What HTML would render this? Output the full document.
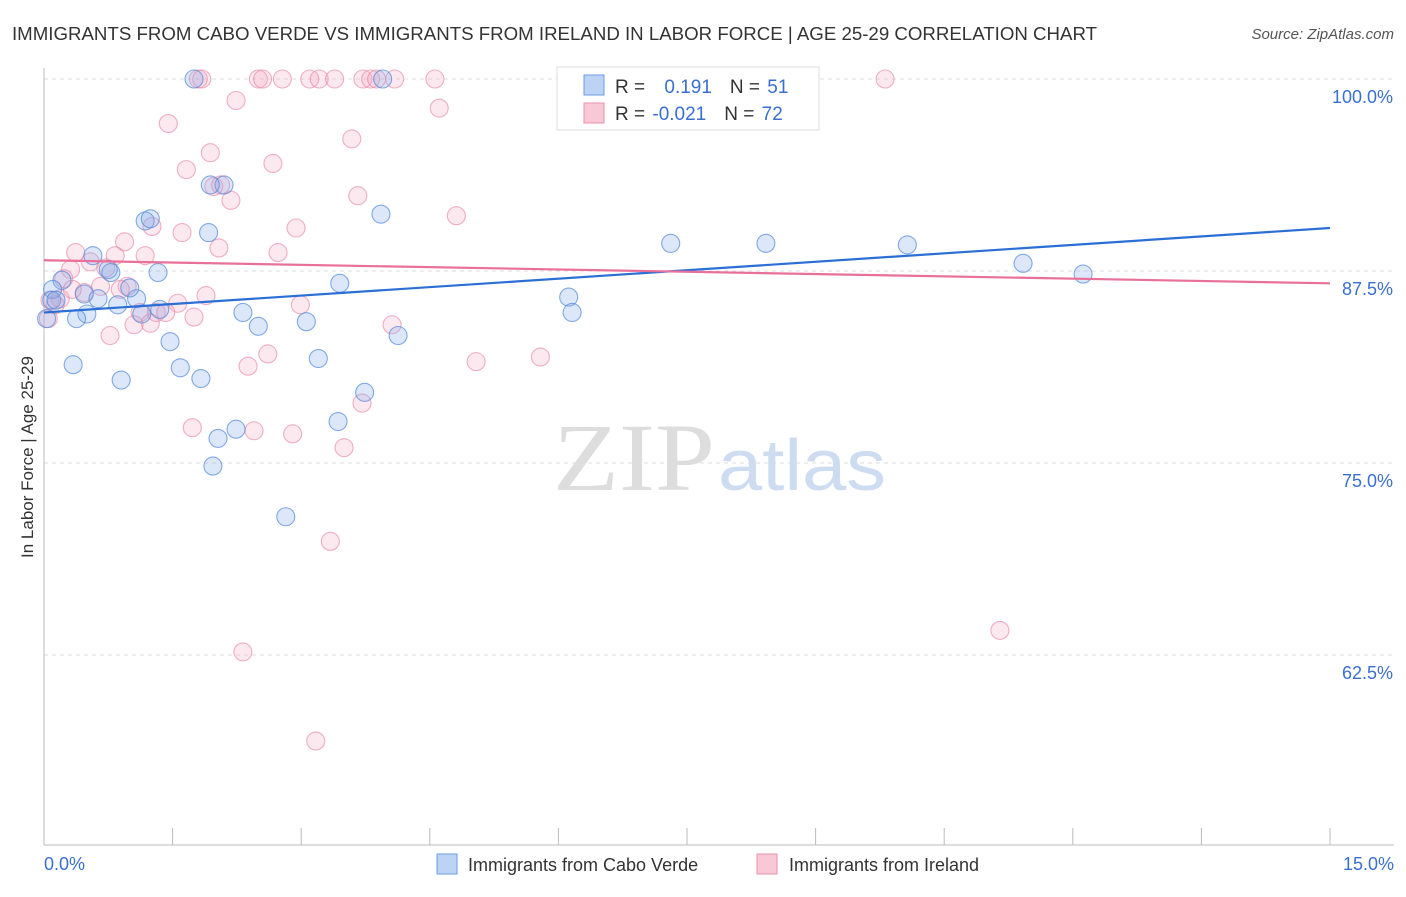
<!DOCTYPE html>
<html><head><meta charset="utf-8"><style>
body{margin:0;background:#fff;font-family:"Liberation Sans",sans-serif}
</style></head><body>
<svg width="1406" height="892" xmlns="http://www.w3.org/2000/svg" font-family="Liberation Sans, sans-serif">
<text x="12" y="40" font-size="18" fill="#333" textLength="1085" lengthAdjust="spacingAndGlyphs">IMMIGRANTS FROM CABO VERDE VS IMMIGRANTS FROM IRELAND IN LABOR FORCE | AGE 25-29 CORRELATION CHART</text>
<text x="1394" y="39" font-size="15" fill="#555" font-style="italic" text-anchor="end">Source: ZipAtlas.com</text>
<g id="grid"></g>
<text x="553" y="490" font-size="96" fill="#ddd" font-family="Liberation Serif, serif" textLength="162" lengthAdjust="spacingAndGlyphs">ZIP</text>
<text x="718" y="490" font-size="72" fill="#cddcf0" textLength="168" lengthAdjust="spacingAndGlyphs">atlas</text>
<line x1="44" y1="68" x2="44" y2="845" stroke="#bbb"/>
<line x1="44" y1="845" x2="1394" y2="845" stroke="#bbb"/>
<text transform="translate(33,457) rotate(-90)" font-size="17" fill="#333" text-anchor="middle">In Labor Force | Age 25-29</text>
<g id="marks"></g>
<g id="ticks"></g>
<g>
<rect x="557" y="67" width="262" height="63" fill="#fff" stroke="#ddd"/>
<rect x="584" y="75" width="20" height="20" fill="#bcd3f5" stroke="#6a9be0"/>
<rect x="584" y="103" width="20" height="20" fill="#f9c8d7" stroke="#e890ab"/>
<text x="615" y="93" font-size="19" fill="#333">R = <tspan fill="#3a6fd0" dx="14">0.191</tspan><tspan dx="18" fill="#333">N = </tspan><tspan fill="#3a6fd0" dx="2">51</tspan></text>
<text x="615" y="120" font-size="19" fill="#333">R = <tspan fill="#3a6fd0" dx="2">-0.021</tspan><tspan dx="18" fill="#333">N = </tspan><tspan fill="#3a6fd0" dx="2">72</tspan></text>
</g>
<g>
<rect x="437" y="854" width="20" height="20" fill="#bcd3f5" stroke="#6a9be0"/>
<text x="468" y="871" font-size="18" fill="#333">Immigrants from Cabo Verde</text>
<rect x="757" y="854" width="20" height="20" fill="#f9c8d7" stroke="#e890ab"/>
<text x="789" y="871" font-size="18" fill="#333">Immigrants from Ireland</text>
</g>
</svg>
<script>
const blueX=[1.75,3.95,6.33,2.10,1.18,1.24,3.93,1.92,0.57,7.31,8.42,10.07,11.42,12.12,1.33,0.78,0.21,0.10,3.45,0.09,0.47,0.63,1.08,0.86,6.12,6.16,2.32,0.50,0.38,1.35,1.14,2.50,3.06,4.13,1.47,3.20,0.34,1.59,0.90,1.83,3.74,3.43,2.24,2.03,1.97,2.82,0.03,0.75,0.14,1.00,1.94];
const blueY=[100,100,100,93.1,90.76,90.9,91.2,90.0,88.5,89.3,89.3,89.2,88.0,87.3,87.4,87.4,86.9,86.3,86.7,85.6,86.0,85.7,85.7,85.3,85.8,84.8,84.8,84.7,84.4,85.0,84.7,83.9,84.2,83.3,82.9,81.8,81.4,81.2,80.4,80.5,79.6,77.7,77.2,76.6,74.8,71.5,84.4,87.6,85.6,86.4,93.1];
const pinkX=[1.80,1.84,2.50,2.55,2.78,3.10,3.21,3.39,3.72,3.81,3.88,4.09,4.56,9.81,2.24,4.61,1.45,3.59,1.94,2.67,1.66,1.98,2.18,3.66,4.81,1.26,1.61,2.94,0.94,2.04,0.37,2.73,0.54,1.18,0.31,0.72,0.66,0.97,0.23,0.47,1.89,1.56,2.99,1.31,1.42,1.12,1.75,1.24,1.05,4.06,0.77,2.61,2.38,5.04,5.79,3.71,1.73,2.45,2.90,3.50,3.34,11.15,2.32,3.17,0.07,0.19,0.05,0.13,0.83,2.06,0.89,0.33];
const pinkY=[100,100,100,100,100,100,100,100,100,100,100,100,100,100,98.6,98.1,97.1,96.1,95.2,94.5,94.1,93.0,92.1,92.4,91.1,90.4,90.0,90.3,89.4,89.0,88.7,88.7,88.1,88.5,87.6,87.7,86.5,86.5,87.0,86.1,85.9,85.4,85.3,84.8,84.8,84.8,84.5,84.1,84.0,84.0,83.3,82.1,81.3,81.6,81.9,78.9,77.3,77.1,76.9,76.0,69.9,64.1,62.7,56.9,85.6,85.7,84.4,85.3,88.5,93.1,86.3,86.3];
const trendBlue=[84.8,90.3];
const trendPink=[88.2,86.7];
const yTicks=[100,87.5,75,62.5];
const yTickLabels=["100.0%","87.5%","75.0%","62.5%"];
const xTicks=[0,1.5,3,4.5,6,7.5,9,10.5,12,13.5,15];
const xEndLabels=["0.0%","15.0%"];
const NS="http://www.w3.org/2000/svg";
const sx=v=>44+v/15*1286;
const sy=v=>79+(100-v)/12.5*192;
function mk(tag,attrs,parent){const e=document.createElementNS(NS,tag);for(const k in attrs)e.setAttribute(k,attrs[k]);document.getElementById(parent).appendChild(e);return e;}
yTicks.forEach((t,i)=>{
 const l=mk('line',{x1:44,x2:1394,y1:sy(t),y2:sy(t),stroke:'#ddd','stroke-dasharray':'4,4'},'grid');
 
 
 const tx=mk('text',{x:1393,y:sy(t)+24,'font-size':18,fill:'#3a6fd0','text-anchor':'end'},'ticks');
 tx.textContent=yTickLabels[i];
 
 
});
xTicks.forEach(t=>{
 const l=mk('line',{x1:sx(t),x2:sx(t),y1:828,y2:845,stroke:'#bbb'},'ticks');
 
 
});
[[0,'start',44],[1,'end',1394]].forEach(([i,a,x])=>{
 const tx=mk('text',{x:x,y:870,'font-size':18,fill:'#3a6fd0','text-anchor':a},'ticks');
 tx.textContent=xEndLabels[i];
 
 
});
function series(X,Y,fill,stroke,name){
 X.forEach((x,i)=>{
  const c=mk('circle',{cx:sx(x),cy:sy(Y[i]),r:9,fill:fill,stroke:stroke,'stroke-width':1.1},'marks');
  
  
 });
}
function trend(T,color,name){
 const l=mk('line',{x1:sx(0),y1:sy(T[0]),x2:sx(15),y2:sy(T[1]),stroke:color,'stroke-width':2.2},'marks');
 
 
}
series(pinkX,pinkY,'rgba(246,172,197,0.28)','rgba(232,135,165,0.65)','ireland');
series(blueX,blueY,'rgba(130,172,236,0.28)','rgba(80,135,218,0.7)','cabo-verde');
trend(trendBlue,'#2a6fd6','cabo-verde');
trend(trendPink,'#e8709a','ireland');
</script>
</body></html>
